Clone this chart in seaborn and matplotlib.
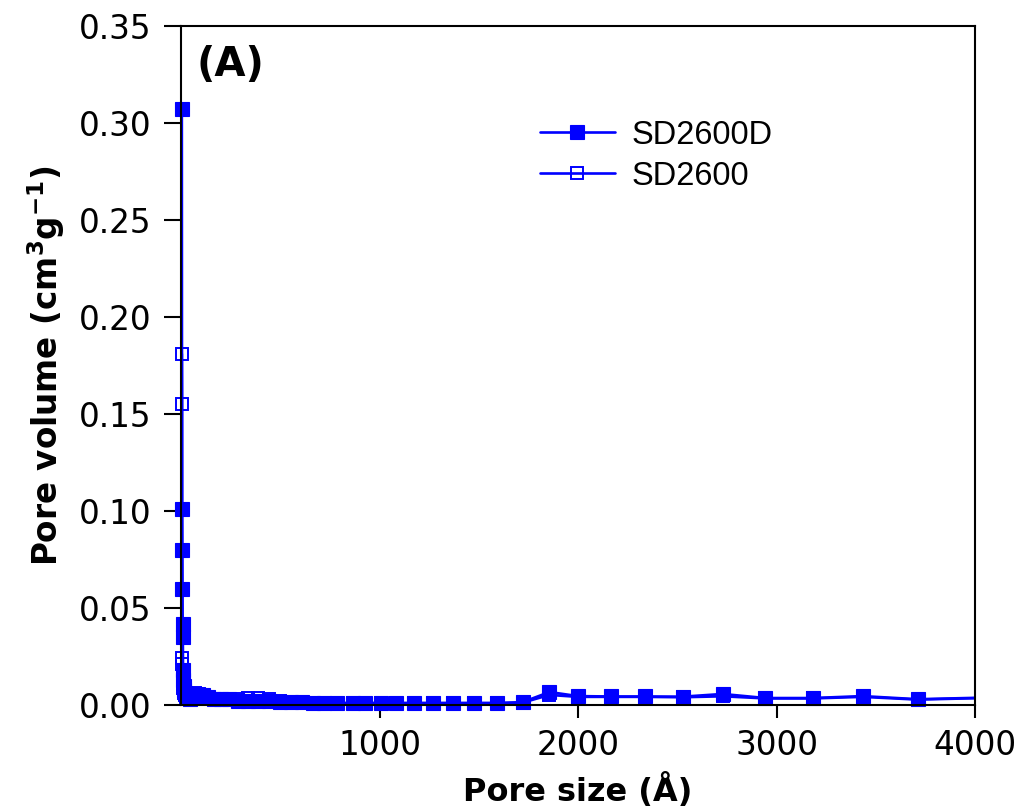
import matplotlib
matplotlib.use("Agg")
import matplotlib.pyplot as plt
from matplotlib.patches import Rectangle
from matplotlib.ticker import FormatStrFormatter
import seaborn as sns
import pandas as pd

# Pore size distribution (pore size in Å, pore volume in cm3/g)
size_sd2600d = [4, 5, 6, 7, 8, 9, 10, 12, 14, 17, 20, 25, 30, 38, 47, 58, 72,
                90, 110, 135, 165, 200, 240, 285, 335, 390, 445, 500, 555, 610,
                665, 720, 785, 864, 929, 1005, 1085, 1171, 1267, 1368, 1474,
                1594, 1720, 1856, 1999, 2164, 2335, 2526, 2728, 2944, 3181,
                3433, 3710, 4040]
vol_sd2600d = [0.307, 0.101, 0.080, 0.060, 0.042, 0.035, 0.018, 0.013, 0.010,
               0.008, 0.006, 0.005, 0.004, 0.004, 0.003, 0.004, 0.005,
               0.005, 0.005, 0.004, 0.003, 0.003, 0.003, 0.002, 0.002, 0.002,
               0.002, 0.0015, 0.0015, 0.0015, 0.0012, 0.0012, 0.001, 0.001,
               0.001, 0.001, 0.001, 0.001, 0.001, 0.001, 0.001,
               0.001, 0.0015, 0.0067, 0.0046, 0.0044, 0.0044, 0.0043, 0.0057,
               0.0036, 0.0036, 0.0046, 0.0030, 0.0038]

size_sd2600 = [4, 5, 6, 7, 8, 9, 10, 12, 14, 17, 20, 25, 30, 38, 47, 58, 72,
               90, 110, 135, 165, 200, 240, 285, 335, 390, 445, 500, 555, 610,
               665, 720, 785, 864, 929, 1005, 1085, 1171, 1267, 1368, 1474,
               1594, 1720, 1856, 1999, 2164, 2335, 2526, 2728, 2944, 3181,
               3433, 3710, 4040]
vol_sd2600 = [0.181, 0.155, 0.024, 0.021, 0.017, 0.014, 0.011, 0.009, 0.007,
              0.006, 0.005, 0.004, 0.004, 0.004, 0.004, 0.005, 0.006,
              0.0055, 0.005, 0.004, 0.003, 0.003, 0.003, 0.003, 0.0035, 0.0035,
              0.003, 0.002, 0.0015, 0.0012, 0.001, 0.001, 0.001, 0.001,
              0.001, 0.001, 0.001, 0.001, 0.001, 0.001, 0.001,
              0.001, 0.0012, 0.0052, 0.0042, 0.0042, 0.0042, 0.0040, 0.0045,
              0.0034, 0.0034, 0.0042, 0.0028, 0.0036]

series_names = ["SD2600D", "SD2600"]
x_ticks = [1000, 2000, 3000, 4000]
y_ticks = [0.00, 0.05, 0.10, 0.15, 0.20, 0.25, 0.30, 0.35]

sns.set_style("ticks")
plt.rcParams["font.family"] = ["DejaVu Sans"]
plt.rcParams["text.color"] = "black"
plt.rcParams["axes.labelcolor"] = "black"
plt.rcParams["xtick.color"] = "black"
plt.rcParams["ytick.color"] = "black"
plt.rcParams["mathtext.default"] = "bf"

fig = plt.figure(figsize=(10.2, 8.1), dpi=100)
ax = fig.add_axes([0.1775, 0.1296, 0.7785, 0.8384])

df_d = pd.DataFrame({"size": size_sd2600d, "vol": vol_sd2600d})
df_o = pd.DataFrame({"size": size_sd2600, "vol": vol_sd2600})

blue = "#0000ff"
sns.lineplot(data=df_o, x="size", y="vol", ax=ax, sort=False, estimator=None,
             color=blue, linewidth=1.9, marker="s", markersize=8,
             markerfacecolor="none", markeredgecolor=blue, markeredgewidth=1.4,
             label=series_names[1])
sns.lineplot(data=df_d, x="size", y="vol", ax=ax, sort=False, estimator=None,
             color=blue, linewidth=1.9, marker="s", markersize=9.5,
             markerfacecolor=blue, markeredgecolor=blue, markeredgewidth=0.8,
             label=series_names[0])

# let markers sitting on the left/bottom spines show in full
clip = Rectangle((-0.02, -0.02), 1.02, 1.04, transform=ax.transAxes,
                 facecolor="none", edgecolor="none")
fig.add_artist(clip)
for ln in ax.lines:
    ln.set_clip_path(clip)

ax.set_xlim(0, 4000)
ax.set_ylim(0, 0.35)
ax.set_xticks(x_ticks)
ax.set_yticks(y_ticks)
ax.yaxis.set_major_formatter(FormatStrFormatter("%.2f"))

for side in ["left", "right", "top", "bottom"]:
    ax.spines[side].set_visible(True)
    ax.spines[side].set_linewidth(1.5)
    ax.spines[side].set_color("black")

ax.tick_params(axis="y", direction="out", length=12, width=1.5,
               labelsize=23.5, pad=9)
ax.tick_params(axis="x", direction="out", length=9, width=1.5,
               labelsize=23.5, pad=8)

ax.set_xlabel("Pore size (Å)", fontsize=23, fontweight="bold", labelpad=8)
ax.set_ylabel(r"Pore volume (cm$^{3}$g$^{-1}$)",
              fontsize=23.5, fontweight="bold", labelpad=9)

ax.text(0.02, 0.942, "(A)", transform=ax.transAxes, fontsize=29,
        fontweight="bold", ha="left", va="center")

handles, labels = ax.get_legend_handles_labels()
order = [labels.index(n) for n in series_names]
leg = ax.legend([handles[i] for i in order], [labels[i] for i in order],
                loc="upper left", bbox_to_anchor=(0.415, 0.905), frameon=False,
                prop={"family": "Liberation Sans", "size": 23.5},
                handlelength=2.3, handletextpad=0.5, labelspacing=0.3)

fig.savefig("out.png", dpi=100, facecolor="white")
